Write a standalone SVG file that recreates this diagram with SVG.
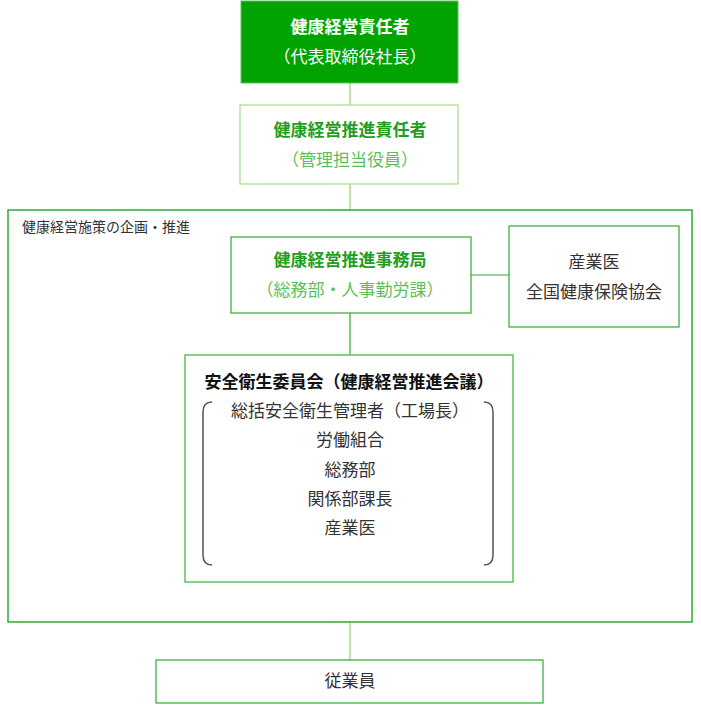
<svg xmlns="http://www.w3.org/2000/svg" width="701" height="712" viewBox="0 0 701 712">
<style>
text{font-family:"Noto Sans CJK JP","Noto Sans CJK SC",sans-serif;text-anchor:middle;font-size:17px}
.b{font-weight:bold}
.g{fill:#1f9e1f}.lg{fill:#5cbf5c}.k{fill:#333}.w{fill:#fff}
.ln{stroke:#a9dc8a;stroke-width:1.5;fill:none}
</style>
<rect width="701" height="712" fill="#fff"/>
<g id="connectors">
<line class="ln" x1="350" y1="83" x2="350" y2="105"/>
<line class="ln" x1="350" y1="184" x2="350" y2="210"/>
<line x1="471" y1="275" x2="509" y2="275" stroke="#2eaa2e" stroke-width="1.2"/>
<line x1="350" y1="313" x2="350" y2="355" stroke="#2eaa2e" stroke-width="1.2"/>
<line class="ln" x1="350" y1="622" x2="350" y2="660"/>
</g>
<g id="n1"><rect x="241" y="1" width="217" height="82" fill="#00a300" stroke="#5cc35c"/>
<text x="350" y="33" class="b w">健康経営責任者</text><text x="350" y="63" class="w">（代表取締役社長）</text></g>
<g id="n2"><rect x="240" y="105" width="218" height="79" fill="#fff" stroke="#a9dc8a" stroke-width="1.2"/>
<text x="350" y="136" class="b g">健康経営推進責任者</text><text x="350" y="166" class="lg">（管理担当役員）</text></g>
<g id="outer"><rect x="8" y="210" width="684" height="412" fill="none" stroke="#2eaa2e" stroke-width="1.5"/>
<text x="22" y="232" class="k" style="text-anchor:start;font-size:14px">健康経営施策の企画・推進</text></g>
<g id="n3"><rect x="231" y="237" width="240" height="76" fill="#fff" stroke="#2eaa2e" stroke-width="1.2"/>
<text x="350" y="266" class="b g">健康経営推進事務局</text><text x="350" y="296" class="lg">（総務部・人事勤労課）</text></g>
<g id="n4"><rect x="509" y="226" width="170" height="101" fill="#fff" stroke="#2eaa2e" stroke-width="1.2"/>
<text x="594" y="268" class="k">産業医</text><text x="594" y="298" class="k">全国健康保険協会</text></g>
<g id="n5"><rect x="185" y="355" width="328" height="227" fill="#fff" stroke="#5cc35c" stroke-width="1.5"/>
<text x="349" y="388" class="b" fill="#111">安全衛生委員会（健康経営推進会議）</text>
<path d="M212 402 Q203 402 203 412 V555 Q203 565 212 565" fill="none" stroke="#555" stroke-width="1.5"/>
<path d="M484 402 Q493 402 493 412 V555 Q493 565 484 565" fill="none" stroke="#555" stroke-width="1.5"/>
<text x="350" y="417" class="k">総括安全衛生管理者（工場長）</text>
<text x="350" y="446" class="k">労働組合</text>
<text x="350" y="476" class="k">総務部</text>
<text x="350" y="505" class="k">関係部課長</text>
<text x="350" y="534" class="k">産業医</text></g>
<g id="n6"><rect x="156" y="660" width="387" height="43" fill="#fff" stroke="#2eaa2e" stroke-width="1.2"/>
<text x="350" y="687" class="k">従業員</text></g>
</svg>
